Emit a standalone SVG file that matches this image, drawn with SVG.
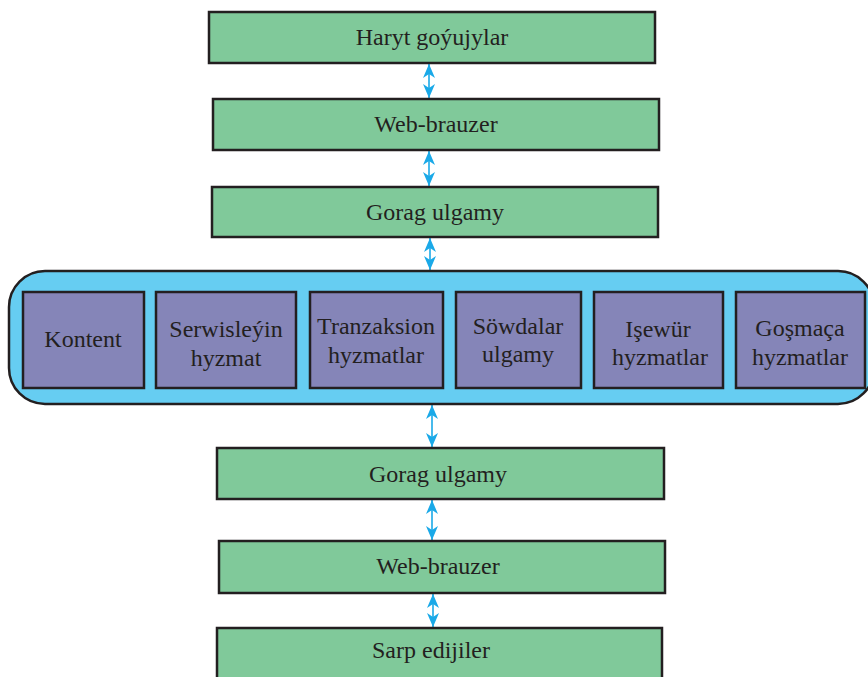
<svg xmlns="http://www.w3.org/2000/svg" width="868" height="677" viewBox="0 0 868 677">
<defs>
<style>
.g{fill:#80C99A;stroke:#231F20;stroke-width:2.5}
.p{fill:#8585B8;stroke:#231F20;stroke-width:2.5}
.c{fill:#66CDF2;stroke:#231F20;stroke-width:2.5}
.t{font-family:"Liberation Serif","Times New Roman",serif;font-size:24px;fill:#231F20;text-anchor:middle}
.a{stroke:#1AA9E8;stroke-width:1.6;fill:none;marker-start:url(#ah);marker-end:url(#ah)}
</style>
<marker id="ah" viewBox="0 0 14 12" refX="14" refY="6" markerWidth="14" markerHeight="12" markerUnits="userSpaceOnUse" orient="auto-start-reverse">
<path d="M0,0 L14,6 L0,12 L4,6 z" fill="#1AA9E8"/>
</marker>
</defs>
<g id="connectors">
<line class="a" x1="429" y1="64" x2="429" y2="98"/>
<line class="a" x1="429" y1="151" x2="429" y2="186"/>
<line class="a" x1="430" y1="238" x2="430" y2="270"/>
<line class="a" x1="432" y1="405" x2="432" y2="447"/>
<line class="a" x1="432" y1="500" x2="432" y2="540"/>
<line class="a" x1="433" y1="594" x2="433" y2="627"/>
</g>
<g id="n1"><rect class="g" x="209" y="12" width="446" height="51"/><text class="t" x="432" y="45">Haryt goýujylar</text></g>
<g id="n2"><rect class="g" x="213" y="99" width="446" height="51"/><text class="t" x="436" y="132">Web-brauzer</text></g>
<g id="n3"><rect class="g" x="212" y="187" width="446" height="50"/><text class="t" x="435" y="220">Gorag ulgamy</text></g>
<g id="container"><rect class="c" x="9" y="271" width="865" height="133" rx="36" ry="36"/></g>
<g id="s1"><rect class="p" x="23" y="292" width="121" height="96"/><text class="t" x="83" y="347">Kontent</text></g>
<g id="s2"><rect class="p" x="156" y="292" width="140" height="96"/><text class="t" x="226" y="337">Serwisleýin</text><text class="t" x="226" y="366">hyzmat</text></g>
<g id="s3"><rect class="p" x="310" y="292" width="133" height="96"/><text class="t" x="376" y="334">Tranzaksion</text><text class="t" x="376" y="363">hyzmatlar</text></g>
<g id="s4"><rect class="p" x="456" y="292" width="125" height="96"/><text class="t" x="518" y="334">Söwdalar</text><text class="t" x="518" y="362">ulgamy</text></g>
<g id="s5"><rect class="p" x="594" y="292" width="129" height="96"/><text class="t" x="658" y="337">Işewür</text><text class="t" x="660" y="365">hyzmatlar</text></g>
<g id="s6"><rect class="p" x="736" y="292" width="129" height="96"/><text class="t" x="800" y="336">Goşmaça</text><text class="t" x="800" y="365">hyzmatlar</text></g>
<g id="n4"><rect class="g" x="217" y="448" width="447" height="51"/><text class="t" x="438" y="482">Gorag ulgamy</text></g>
<g id="n5"><rect class="g" x="219" y="541" width="446" height="52"/><text class="t" x="438" y="574">Web-brauzer</text></g>
<g id="n6"><rect class="g" x="217" y="628" width="445" height="60"/><text class="t" x="431" y="658">Sarp edijiler</text></g>
</svg>
